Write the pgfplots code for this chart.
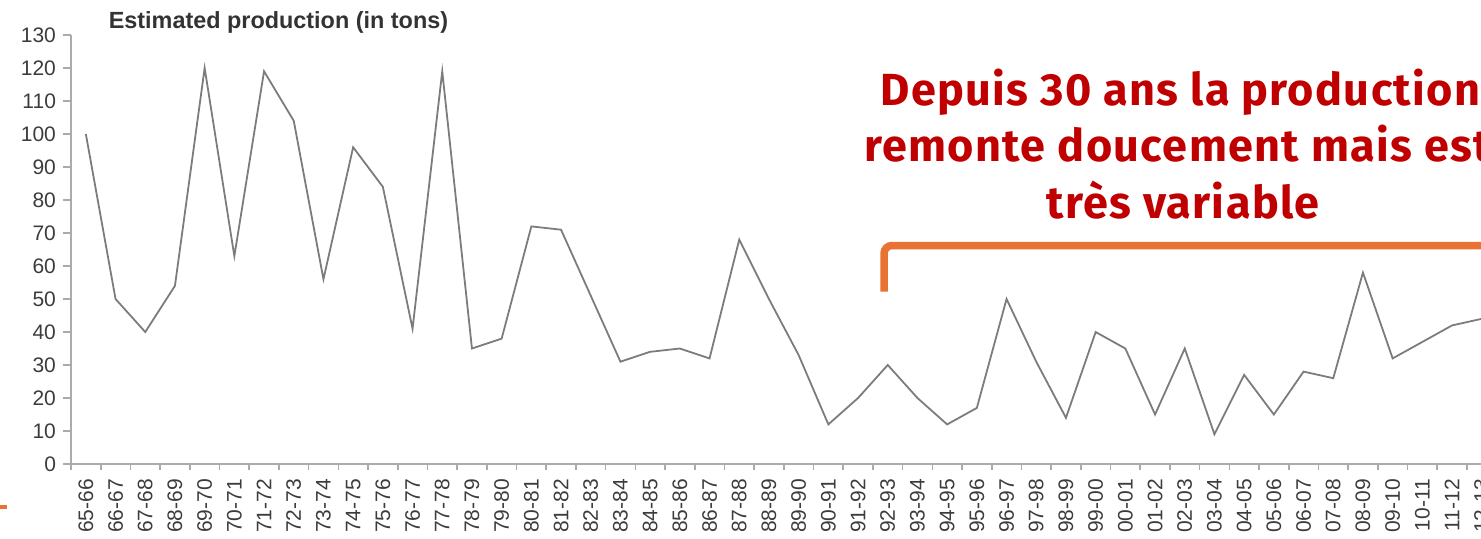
\documentclass[border=0pt]{standalone}
\usepackage{fontspec}
\setmainfont{Liberation Sans}
\newfontfamily\firasans[LetterSpace=3]{Fira Sans}
\usepackage{pgfplots}
\usepackage{pgfplotstable}
\pgfplotsset{compat=1.18}
\definecolor{annred}{HTML}{C00000}
\definecolor{bracketorange}{HTML}{E97132}
\definecolor{linegray}{HTML}{7C7C7C}
\definecolor{axisgray}{HTML}{ABABAB}
\definecolor{labelgray}{HTML}{3C3C3C}
\definecolor{titlegray}{HTML}{333333}

\pgfplotstableread{
idx val
0 100
1 50
2 40
3 54
4 120
5 63
6 119
7 104
8 56
9 96
10 84
11 41
12 119
13 35
14 38
15 72
16 71
17 51
18 31
19 34
20 35
21 32
22 68
23 50
24 33
25 12
26 20
27 30
28 20
29 12
30 17
31 50
32 31
33 14
34 40
35 35
36 15
37 35
38 9
39 27
40 15
41 28
42 26
43 58
44 32
45 37
46 42
47 44
}\prodtable

\begin{document}
\begin{tikzpicture}[x=1pt,y=1pt]
\begin{axis}[
  at={(35.5pt,37pt)}, anchor=south west,
  scale only axis, width=712.8pt, height=214.5pt,
  xmin=-0.5, xmax=47.5, ymin=0, ymax=130,
  axis x line*=bottom, axis y line*=left,
  axis line style={draw=axisgray, line width=0.8pt},
  tick align=outside,
  ytick={0,10,...,130},
  xtick={0,...,47},
  xticklabels={65-66,66-67,67-68,68-69,69-70,70-71,71-72,72-73,73-74,74-75,75-76,76-77,77-78,78-79,79-80,80-81,81-82,82-83,83-84,84-85,85-86,86-87,87-88,88-89,89-90,90-91,91-92,92-93,93-94,94-95,95-96,96-97,97-98,98-99,99-00,00-01,01-02,02-03,03-04,04-05,05-06,06-07,07-08,08-09,09-10,10-11,11-12,12-13},
  minor xtick={-0.5,0.5,...,47.5},
  major tick length=4pt,
  minor tick length=3pt,
  major x tick style={draw=none},
  minor x tick style={draw=axisgray, line width=0.8pt},
  major y tick style={draw=axisgray, line width=0.8pt},
  /pgf/number format/assume math mode=true,
  yticklabel style={font=\fontsize{10.5}{12}\selectfont, text=labelgray},
  xticklabel style={font=\fontsize{10.5}{12}\selectfont, text=labelgray, rotate=90, anchor=east},
]
\addplot[color=linegray, line width=0.9pt, mark=none] table[x=idx, y=val] {\prodtable};
\end{axis}

\node[anchor=base west, inner sep=0pt, font=\bfseries\fontsize{11.7}{14}\selectfont, text=titlegray] at (54.2,254.9) {Estimated production (in tons)};

\node[anchor=base west, inner sep=0pt, font=\firasans\bfseries\fontsize{22.5}{26}\selectfont, text=annred] at (440,216.5) {Depuis 30 ans la production};
\node[anchor=base west, inner sep=0pt, font=\firasans\bfseries\fontsize{22.5}{26}\selectfont, text=annred] at (432,188.5) {remonte doucement mais est};
\node[anchor=base west, inner sep=0pt, font=\firasans\bfseries\fontsize{22.5}{26}\selectfont, text=annred] at (523,159.85) {très variable};

\draw[bracketorange, line width=3.75pt, rounded corners=4pt] (442,123.15) -- (442,146.25) -- (780,146.25);
\draw[bracketorange, line width=2pt] (0,15.5) -- (3.5,15.5);

\pgfresetboundingbox
\useasboundingbox (0,0) rectangle (740.5,269);
\end{tikzpicture}
\end{document}
